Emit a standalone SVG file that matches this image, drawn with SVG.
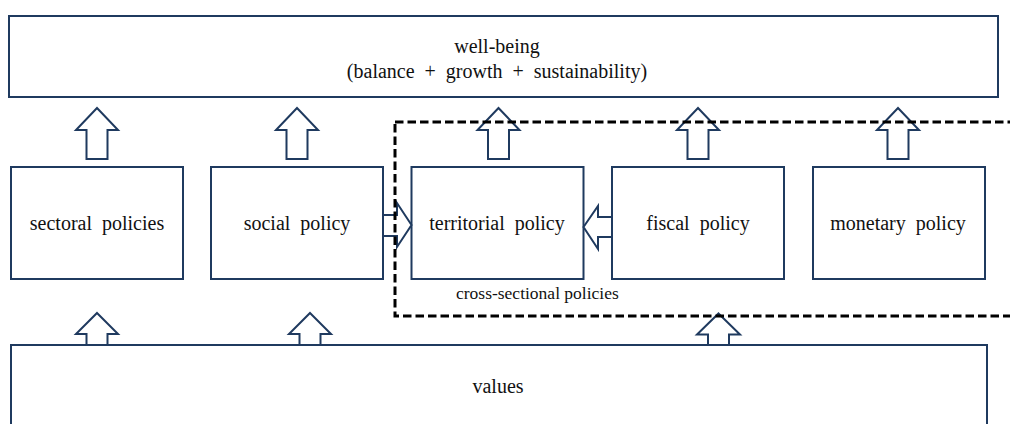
<svg xmlns="http://www.w3.org/2000/svg" width="1010" height="424" viewBox="0 0 1010 424">
<style>
.box{fill:#fff;stroke:#1F3A5F;stroke-width:2}
.arr{fill:#fff;stroke:#1F3A5F;stroke-width:2;stroke-linejoin:miter}
.lbl{font-size:20px;fill:#111;text-anchor:middle;word-spacing:5px}
.small{font-size:17.5px;fill:#111}
.dash{fill:none;stroke:#000;stroke-width:3;stroke-dasharray:8.5 4}
</style>
<rect width="1010" height="424" fill="#fff"/>
<g id="wellbeing">
<rect class="box" x="9" y="16" width="989" height="81"/>
<text class="lbl" font-family="Liberation Serif" x="497" y="53">well-being</text>
<text class="lbl" font-family="Liberation Serif" x="497" y="78">(balance + growth + sustainability)</text>
</g>
<g id="values">
<rect class="box" x="11" y="345" width="976" height="90"/>
<text class="lbl" font-family="Liberation Serif" x="498" y="393">values</text>
</g>
<g id="sectoral">
<rect class="box" x="11" y="167" width="172" height="112"/>
<text class="lbl" font-family="Liberation Serif" x="97" y="230">sectoral policies</text>
</g>
<g id="social">
<rect class="box" x="211" y="167" width="172" height="112"/>
<text class="lbl" font-family="Liberation Serif" x="297" y="230">social policy</text>
</g>
<g id="territorial">
<rect class="box" x="411.5" y="167" width="172" height="112"/>
<text class="lbl" font-family="Liberation Serif" x="497" y="230">territorial policy</text>
</g>
<g id="fiscal">
<rect class="box" x="612" y="167" width="172" height="112"/>
<text class="lbl" font-family="Liberation Serif" x="698" y="230">fiscal policy</text>
</g>
<g id="monetary">
<rect class="box" x="813" y="167" width="172" height="112"/>
<text class="lbl" font-family="Liberation Serif" x="898" y="230">monetary policy</text>
</g>
<g id="connectors">
<path class="arr" d="M97 108 L118 130 L107.5 130 L107.5 159 L86.5 159 L86.5 130 L76 130 Z"/>
<path class="arr" d="M297 108 L318 130 L307.5 130 L307.5 159 L286.5 159 L286.5 130 L276 130 Z"/>
<path class="arr" d="M498.5 108 L519.5 130 L509 130 L509 159 L488 159 L488 130 L477.5 130 Z"/>
<path class="arr" d="M698 108 L719 130 L708.5 130 L708.5 159 L687.5 159 L687.5 130 L677 130 Z"/>
<path class="arr" d="M898 108 L919 130 L908.5 130 L908.5 159 L887.5 159 L887.5 130 L877 130 Z"/>
<path class="arr" d="M97 313 L118 334 L107.5 334 L107.5 345 L86.5 345 L86.5 334 L76 334 Z"/>
<path class="arr" d="M310 313 L331 334 L320.5 334 L320.5 345 L299.5 345 L299.5 334 L289 334 Z"/>
<path class="arr" d="M718.5 313.5 L740 334.5 L729 334.5 L729 345 L708 345 L708 334.5 L697 334.5 Z"/>
<path class="arr" d="M411.5 225 L397 203 L397 215 L383 215 L383 236 L397 236 L397 247 Z"/>
<path class="arr" d="M583.5 227 L598 206 L598 217 L612 217 L612 237 L598 237 L598 249 Z"/>
</g>
<g id="cross-sectional">
<rect class="dash" x="395" y="122" width="630" height="194"/>
<text class="small" font-family="Liberation Serif" x="456" y="299">cross-sectional policies</text>
</g>
</svg>
